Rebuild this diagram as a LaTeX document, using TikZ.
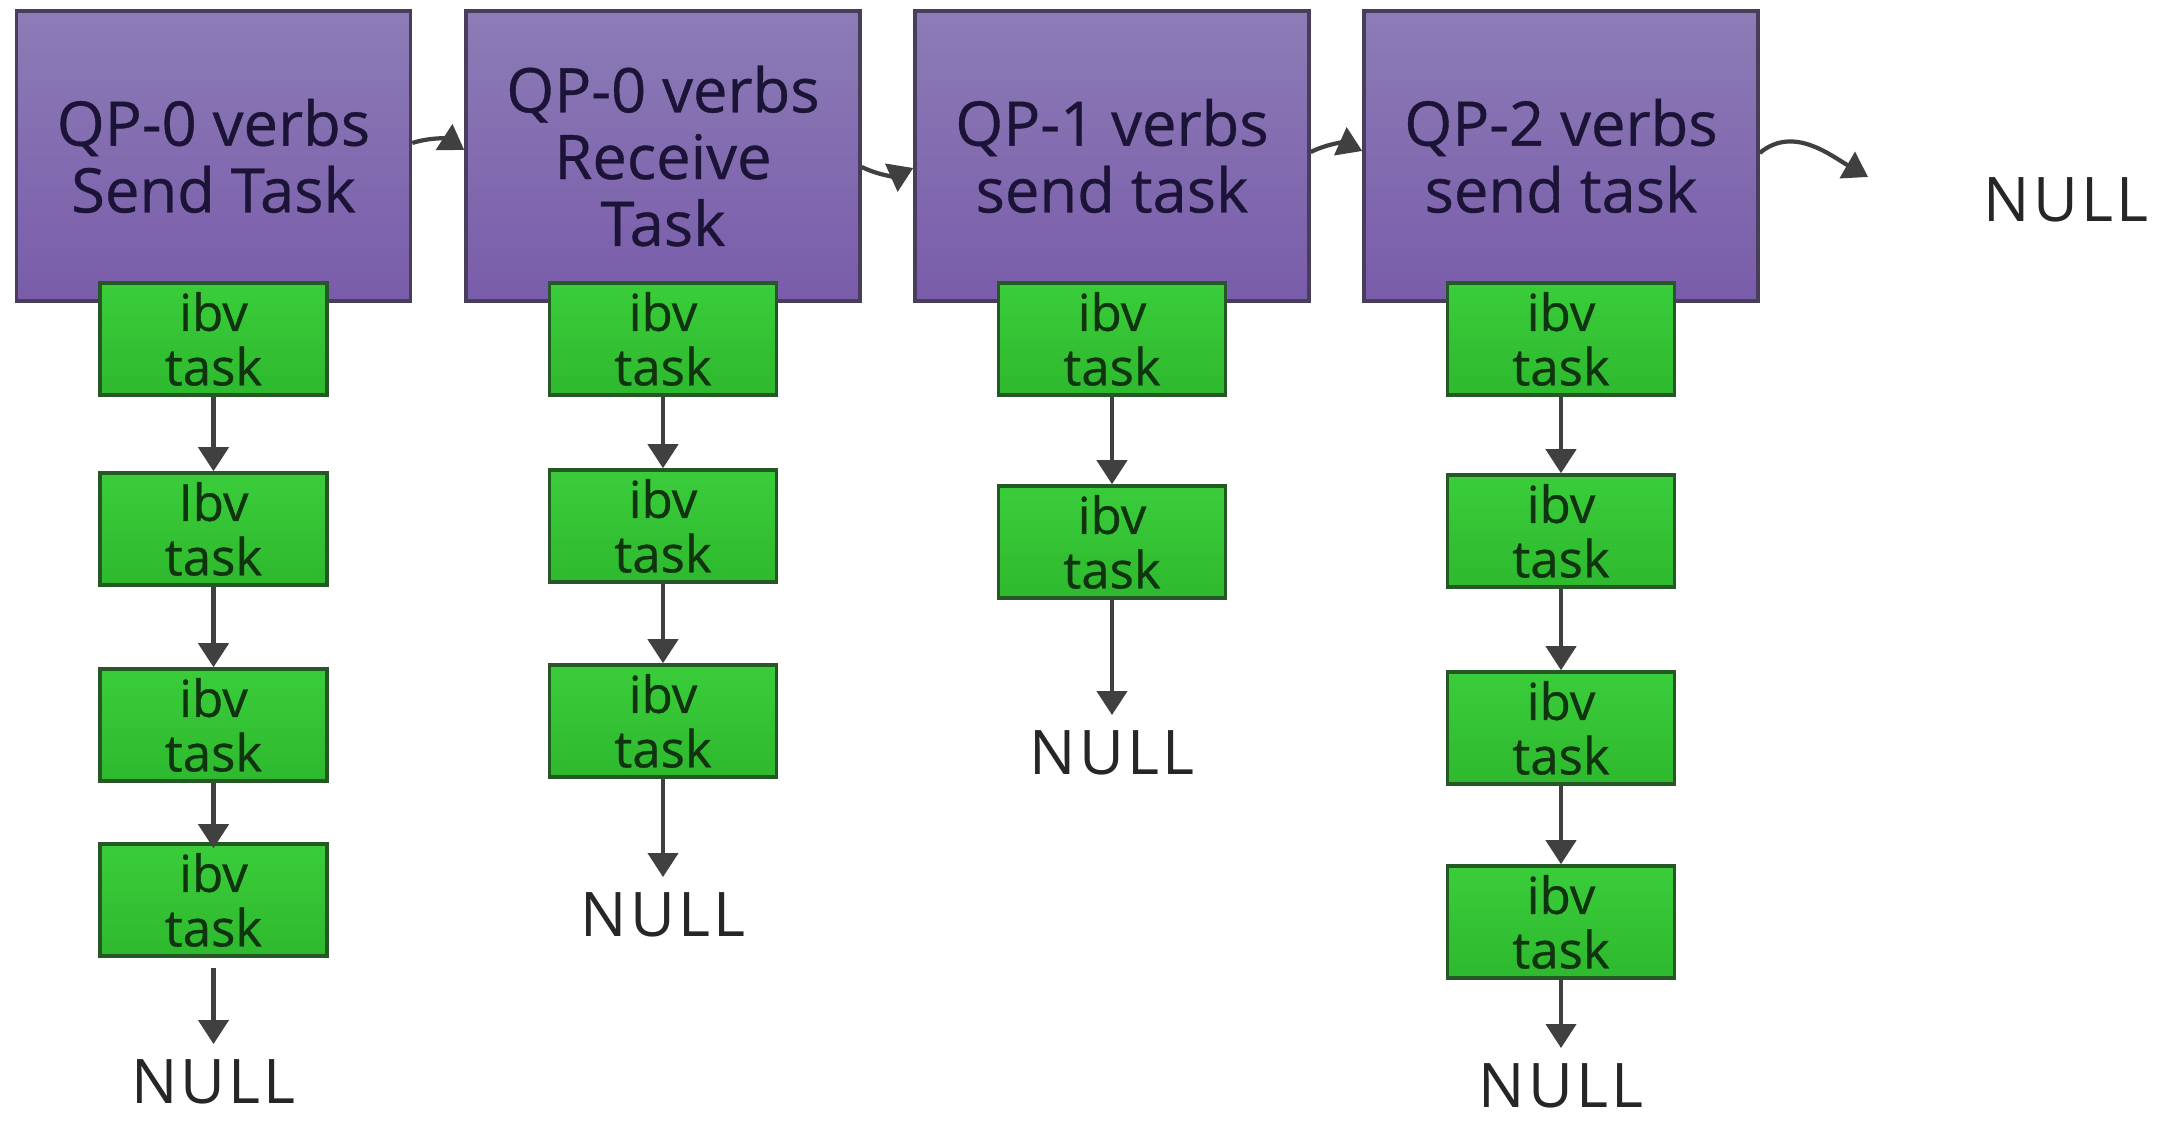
\documentclass[tikz,border=0pt]{standalone}
\usepackage{fontspec}
\setmainfont{Open Sans}
\newfontfamily\medfont{Open Sans}[FakeBold=0.6]
\newfontfamily\endlistfont{Open Sans}[LetterSpace=5]
\usepackage{tikz}
\usetikzlibrary{arrows.meta,positioning}

\definecolor{qptop}{RGB}{140,124,182}
\definecolor{qpbot}{RGB}{121,92,170}
\definecolor{qpline}{RGB}{72,62,92}
\definecolor{qptext}{RGB}{28,20,55}
\definecolor{ibvtop}{RGB}{58,205,58}
\definecolor{ibvbot}{RGB}{46,185,46}
\definecolor{ibvline}{RGB}{38,88,38}
\definecolor{ibvtext}{RGB}{16,52,16}
\definecolor{linkgray}{RGB}{64,64,64}

\tikzset{
  qpbox/.style={draw=qpline, line width=1pt, top color=qptop, bottom color=qpbot,
    minimum width=3.94cm, minimum height=2.90cm, align=center, text=qptext,
    font=\medfont\fontsize{17.5}{19}\selectfont},
  ibvbox/.style={draw=ibvline, line width=1pt, top color=ibvtop, bottom color=ibvbot,
    minimum width=2.27cm, minimum height=1.12cm, align=center, text=ibvtext,
    inner sep=0pt, font=\medfont\fontsize{14.5}{15.5}\selectfont},
  nulltext/.style={text=black!85, inner sep=0.15cm, font=\endlistfont\fontsize{17.5}{19}\selectfont},
  link/.style={draw=linkgray, line width=1.2pt,
    -{Triangle[width=0.3cm,length=0.24cm]}},
}

\begin{document}
\begin{tikzpicture}
  \useasboundingbox (0,0) rectangle (21.67,-11.21);

  % queue pairs
  \node[qpbox] (qp1) at (2.135,-1.56) {QP-0 verbs\\Send Task};
  \node[qpbox] (qp2) at (6.63,-1.56) {QP-0 verbs\\Receive\\Task};
  \node[qpbox] (qp3) at (11.12,-1.56) {QP-1 verbs\\send task};
  \node[qpbox] (qp4) at (15.61,-1.56) {QP-2 verbs\\send task};
  \node[nulltext] (nullqp) at (20.66,-2.00) {NULL};
  \coordinate (qpend) at (18.68,-1.77);

  \draw[link] ([yshift=0.13cm]qp1.east) to[bend left=25] ([yshift=0.06cm]qp2.west);
  \draw[link] ([yshift=-0.11cm]qp2.east) to[bend right=25] ([yshift=-0.12cm]qp3.west);
  \draw[link] ([yshift=0.04cm]qp3.east) to[bend left=25] ([yshift=0.05cm]qp4.west);
  \draw[link] ([yshift=0.03cm]qp4.east) to[out=40,in=150] (qpend);

  % column 1
  \begin{scope}[xshift=2.135cm]
    \node[ibvbox] (a1) at (0,-3.39) {ibv\\task};
    \node[ibvbox] (a2) at (0,-5.29) {Ibv\\task};
    \node[ibvbox] (a3) at (0,-7.25) {ibv\\task};
    \node[ibvbox] (a4) at (0,-9.00) {ibv\\task};
    \node[nulltext] (anull) at (0,-10.82) {NULL};
  \end{scope}
  \draw[link] (a1) -- (a2);
  \draw[link] (a2) -- (a3);
  \draw[link, shorten >=-0.06cm] (a3) -- (a4);
  \draw[link, shorten <=0.1cm] (a4) -- (anull);

  % column 2
  \begin{scope}[xshift=6.63cm]
    \node[ibvbox] (b1) at (0,-3.39) {ibv\\task};
    \node[ibvbox] (b2) at (0,-5.26) {ibv\\task};
    \node[ibvbox] (b3) at (0,-7.21) {ibv\\task};
    \node[nulltext] (bnull) at (0,-9.15) {NULL};
  \end{scope}
  \draw[link] (b1) -- (b2);
  \draw[link] (b2) -- (b3);
  \draw[link] (b3) -- (bnull);

  % column 3
  \begin{scope}[xshift=11.12cm]
    \node[ibvbox] (c1) at (0,-3.39) {ibv\\task};
    \node[ibvbox] (c2) at (0,-5.42) {ibv\\task};
    \node[nulltext] (cnull) at (0,-7.53) {NULL};
  \end{scope}
  \draw[link] (c1) -- (c2);
  \draw[link] (c2) -- (cnull);

  % column 4
  \begin{scope}[xshift=15.61cm]
    \node[ibvbox] (d1) at (0,-3.39) {ibv\\task};
    \node[ibvbox] (d2) at (0,-5.31) {ibv\\task};
    \node[ibvbox] (d3) at (0,-7.28) {ibv\\task};
    \node[ibvbox] (d4) at (0,-9.22) {ibv\\task};
    \node[nulltext] (dnull) at (0,-10.86) {NULL};
  \end{scope}
  \draw[link] (d1) -- (d2);
  \draw[link] (d2) -- (d3);
  \draw[link] (d3) -- (d4);
  \draw[link] (d4) -- (dnull);
\end{tikzpicture}
\end{document}
